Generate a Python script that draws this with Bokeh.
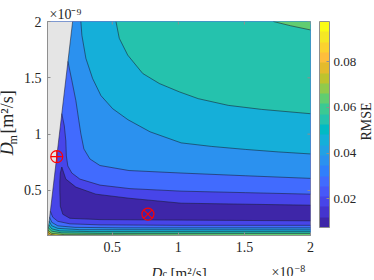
import numpy as np
from math import pi
from bokeh.plotting import figure
from bokeh.layouts import column, row
from bokeh.models import (Range1d, LinearAxis, FixedTicker, PrintfTickFormatter, Title,
                          ColorBar, LinearColorMapper, Label, ColumnDataSource)
from bokeh.embed import file_html
from bokeh.resources import INLINE

# ---------------- data (Dc in 1e-8 m^2/s, Dm in 1e-9 m^2/s) ----------------
dc_range = (0.01, 2.0)
dm_range = (0.1, 2.0)
dc_ticks = [0.5, 1, 1.5, 2]
dm_ticks = [0.5, 1, 1.5, 2]
rmse_ticks = [0.02, 0.04, 0.06, 0.08]
rmse_low, rmse_high = 0.0075, 0.0975
levels = [0.0075, 0.0165, 0.0255, 0.0345, 0.0435, 0.0525, 0.0615, 0.0705, 0.0795, 0.0885]

# level 1 contour: closed valley (U shape, both ends on the right edge)
valley_dc = [2.0, 1.507, 1.021, 0.627, 0.376, 0.2246, 0.1487, 0.1335, 0.1184, 0.107, 0.1032,
             0.1032, 0.107, 0.1259, 0.1791, 0.4067, 1.0212, 2.0]
valley_dm = [0.369, 0.378, 0.387, 0.431, 0.467, 0.5295, 0.6009, 0.6545, 0.708, 0.6545, 0.583,
             0.4938, 0.3598, 0.2884, 0.2527, 0.2411, 0.2366, 0.2304]

# upper contours (above the valley), levels 2..6
up2_dc = [0.1181, 0.1373, 0.1487, 0.1525, 0.1639, 0.1942, 0.2549, 0.4067, 0.6343, 1.0212, 1.5068, 2.0]
up2_dm = [1.1813, 1.0741, 0.9402, 0.8063, 0.717, 0.6545, 0.6009, 0.5473, 0.5161, 0.4938, 0.4804, 0.467]
up3_dc = [0.1646, 0.1942, 0.2246, 0.2473, 0.2625, 0.2853, 0.3308, 0.4067, 0.6267, 1.0212, 1.5068, 2.0]
up3_dm = [1.6455, 1.4759, 1.2973, 1.1188, 1.0027, 0.8688, 0.7795, 0.7214, 0.6768, 0.6545, 0.6304, 0.6071]
up4_dc = [0.2625, 0.2701, 0.3005, 0.3513, 0.4143, 0.503, 0.6191, 0.786, 1.0212, 1.2489, 1.5068, 1.7572, 2.0]
up4_dm = [2.0, 1.8777, 1.6723, 1.4938, 1.342, 1.2259, 1.1277, 1.0205, 0.9223, 0.8911, 0.8643, 0.842, 0.8241]
up5_dc = [0.5281, 0.5531, 0.6168, 0.7307, 0.8566, 1.0083, 1.1502, 1.3779, 1.6305, 2.0]
up5_dm = [2.0, 1.851, 1.7018, 1.5384, 1.449, 1.375, 1.315, 1.2554, 1.2196, 1.1813]
up6_dc = [1.7193, 1.8483, 2.0]
up6_dm = [2.0, 1.9625, 1.925]

# lower contours (below the valley), levels 2..9
lo2_dc = [0.0315, 0.0501, 0.088, 0.1791, 0.4067, 1.0212, 2.0]
lo2_dm = [0.3152, 0.2616, 0.2259, 0.2036, 0.1946, 0.1902, 0.1902]
lo3_dc = [0.0262, 0.0425, 0.088, 0.217, 0.5584, 2.0]
lo3_dm = [0.2616, 0.217, 0.1857, 0.1723, 0.1679, 0.1679]
lo4_dc = [0.0226, 0.0425, 0.088, 0.2549, 2.0]
lo4_dm = [0.2259, 0.1857, 0.1634, 0.1518, 0.15]
lo5_dc = [0.0195, 0.0425, 0.1032, 0.3308, 2.0]
lo5_dm = [0.1946, 0.1589, 0.141, 0.1348, 0.1339]
lo6_dc = [0.0168, 0.0425, 0.1184, 0.4067, 2.0]
lo6_dm = [0.168, 0.1384, 0.1232, 0.1187, 0.1187]
lo7_dc = [0.0146, 0.0425, 0.1411, 0.786, 1.5448]
lo7_dm = [0.1455, 0.1187, 0.1071, 0.1027, 0.1]
lo8_dc = [0.0128, 0.0349, 0.0728]
lo8_dm = [0.1277, 0.1098, 0.1]
lo9_dc = [0.0112, 0.0197, 0.0349]
lo9_dm = [0.1116, 0.1045, 0.1]

# marked estimates
mark_plus = (0.08, 0.8)
mark_x = (0.77, 0.29)

# ---------------- colormap (parula) ----------------
parula64 = [
 (0.2422,0.1504,0.6603),(0.2504,0.1650,0.7076),(0.2578,0.1818,0.7511),(0.2647,0.1978,0.7952),
 (0.2706,0.2147,0.8364),(0.2751,0.2342,0.8710),(0.2783,0.2559,0.8991),(0.2803,0.2782,0.9221),
 (0.2813,0.3006,0.9414),(0.2810,0.3228,0.9579),(0.2795,0.3447,0.9717),(0.2760,0.3667,0.9829),
 (0.2699,0.3892,0.9906),(0.2602,0.4123,0.9952),(0.2440,0.4358,0.9988),(0.2206,0.4603,0.9973),
 (0.1963,0.4847,0.9892),(0.1834,0.5074,0.9798),(0.1786,0.5289,0.9682),(0.1764,0.5499,0.9520),
 (0.1687,0.5703,0.9359),(0.1540,0.5902,0.9218),(0.1460,0.6091,0.9079),(0.1380,0.6276,0.8973),
 (0.1248,0.6459,0.8883),(0.1113,0.6635,0.8763),(0.0952,0.6798,0.8598),(0.0689,0.6948,0.8394),
 (0.0297,0.7082,0.8163),(0.0036,0.7203,0.7917),(0.0067,0.7312,0.7660),(0.0433,0.7411,0.7394),
 (0.0964,0.7500,0.7120),(0.1408,0.7584,0.6842),(0.1717,0.7670,0.6554),(0.1938,0.7758,0.6251),
 (0.2161,0.7843,0.5923),(0.2470,0.7918,0.5567),(0.2906,0.7973,0.5188),(0.3406,0.8008,0.4789),
 (0.3909,0.8029,0.4354),(0.4456,0.8024,0.3909),(0.5044,0.7993,0.3480),(0.5616,0.7942,0.3045),
 (0.6174,0.7876,0.2612),(0.6720,0.7793,0.2227),(0.7242,0.7698,0.1910),(0.7738,0.7598,0.1646),
 (0.8203,0.7498,0.1535),(0.8634,0.7406,0.1596),(0.9035,0.7330,0.1774),(0.9393,0.7288,0.2100),
 (0.9728,0.7298,0.2394),(0.9956,0.7434,0.2371),(0.9970,0.7659,0.2199),(0.9952,0.7893,0.2028),
 (0.9892,0.8136,0.1885),(0.9786,0.8386,0.1766),(0.9676,0.8639,0.1643),(0.9610,0.8890,0.1537),
 (0.9597,0.9135,0.1423),(0.9628,0.9373,0.1265),(0.9691,0.9606,0.1064),(0.9769,0.9839,0.0805)]
tab = np.array(parula64)
palette = []
for t in np.linspace(0, 63, 20):
    rgb = [np.interp(t, np.arange(64), tab[:, c]) for c in range(3)]
    palette.append("#%02x%02x%02x" % tuple(int(round(255 * v)) for v in rgb))
mapper = LinearColorMapper(palette=palette, low=rmse_low, high=rmse_high)

# ---------------- filled regions (painter's order) ----------------
x0, x1 = dc_range
y0, y1 = dm_range
poly_x, poly_y, poly_v = [], [], []
def add(xs, ys, v):
    poly_x.append(list(xs)); poly_y.append(list(ys)); poly_v.append(v + 0.001)

add([x0, x1, x1, x0], [y0, y0, y1, y1], levels[1])
uppers = [(up2_dc, up2_dm), (up3_dc, up3_dm), (up4_dc, up4_dm), (up5_dc, up5_dm), (up6_dc, up6_dm)]
for k, (xs, ys) in enumerate(uppers, start=2):
    px, py = list(xs) + [x1], list(ys) + [y1]
    if ys[0] < y1:
        px += [x0, x0]; py += [y1, ys[0]]
    add(px, py, levels[k])
lowers = [(lo2_dc, lo2_dm), (lo3_dc, lo3_dm), (lo4_dc, lo4_dm), (lo5_dc, lo5_dm),
          (lo6_dc, lo6_dm), (lo7_dc, lo7_dm), (lo8_dc, lo8_dm), (lo9_dc, lo9_dm)]
for k, (xs, ys) in enumerate(lowers, start=2):
    px, py = list(xs), list(ys)
    if xs[-1] >= x1:
        px += [x1]; py += [y0]
    px += [x0, x0]; py += [y0, ys[0]]
    add(px, py, levels[k])
add(valley_dc, valley_dm, levels[0])

# ---------------- main figure ----------------
FONT = "Liberation Serif"
TXT = "#262626"
AX = "#8f8f8f"
FW, FH = 263, 214
BOTTOM = 24
MAIN_H = 21 + FH + BOTTOM
EXTRA = 4            # observed extra height of the plot row
p = figure(frame_width=FW, frame_height=FH, output_backend="svg", toolbar_location=None,
           x_range=Range1d(*dc_range), y_range=Range1d(*dm_range),
           min_border_left=27, min_border_top=21, min_border_bottom=BOTTOM, min_border_right=45)
p.background_fill_color = "white"
p.border_fill_color = "white"
p.grid.visible = False
p.outline_line_color = AX
p.title.visible = False

src = ColumnDataSource(dict(xs=poly_x, ys=poly_y, v=poly_v))
p.patches("xs", "ys", source=src, fill_color={"field": "v", "transform": mapper},
          line_color=None)

# region where Dc < Dm: no data
p.patch([x0, dm_range[1] / 10, x0], [y0, y1, y1], fill_color="#e5e5e5", line_color=None)

line_x = [valley_dc] + [u[0] for u in uppers] + [l[0] for l in lowers] + [[x0, dm_range[1] / 10]]
line_y = [valley_dm] + [u[1] for u in uppers] + [l[1] for l in lowers] + [[y0, y1]]
p.multi_line(line_x, line_y, line_color="#1a1a2a", line_width=0.6, line_alpha=0.9)

# inward ticks on the top and right edges of the box (3 px long)
tx = 3 * (x1 - x0) / FW
ty = 3 * (y1 - y0) / FH
p.segment(x0=dc_ticks, y0=[y1] * len(dc_ticks), x1=dc_ticks, y1=[y1 - ty] * len(dc_ticks),
          line_color=AX, line_width=1)
p.segment(x0=[x1] * len(dm_ticks), y0=dm_ticks, x1=[x1 - tx] * len(dm_ticks), y1=dm_ticks,
          line_color=AX, line_width=1)

p.scatter([mark_plus[0]], [mark_plus[1]], marker="circle_cross", size=12, fill_color=None,
          line_color="red", line_width=1.2)
p.scatter([mark_x[0]], [mark_x[1]], marker="circle_x", size=12, fill_color=None,
          line_color="red", line_width=1.2)

for ax, ticks in ((p.xaxis[0], dc_ticks), (p.yaxis[0], dm_ticks)):
    ax.ticker = FixedTicker(ticks=ticks)
    ax.formatter = PrintfTickFormatter(format="%g")
    ax.axis_label = None
    ax.axis_label_standoff = 0
    ax.major_label_text_font = FONT
    ax.major_label_text_font_size = "14px"
    ax.major_label_text_color = TXT
    ax.major_tick_in = 3
    ax.major_tick_out = 0
    ax.minor_tick_line_color = None
    ax.axis_line_color = AX
    ax.major_tick_line_color = AX
    ax.major_label_standoff = 6

cb = ColorBar(color_mapper=mapper, ticker=FixedTicker(ticks=rmse_ticks),
              formatter=PrintfTickFormatter(format="%.2f"),
              major_label_text_font=FONT, major_label_text_font_size="13px",
              major_label_text_color=TXT,
              major_tick_line_color=AX, major_tick_in=3, major_tick_out=0,
              bar_line_color=AX, width=10, height=206, padding=0, margin=0,
              label_standoff=4, location=(9, 8),
              background_fill_color=None, border_line_color=None)
p.add_layout(cb, "right")

# exponent of the Dm axis, above the box (a 5 px empty spacer axis sits above it)
exp_title = Title(text="\u00d710\u207b\u2079", align="left", offset=2, standoff=0,
                  text_font=FONT, text_font_size="14px", text_font_style="normal",
                  text_color=TXT)
p.add_layout(exp_title, "above")
spacer = LinearAxis(ticker=FixedTicker(ticks=[]), major_tick_out=5, major_tick_in=0,
                    minor_tick_out=0, minor_tick_in=0, major_label_standoff=0,
                    axis_label=None, axis_label_standoff=0,
                    axis_line_color=None, major_tick_line_color=None, minor_tick_line_color=None)
p.add_layout(spacer, "above")

# ---------------- text strips (axis titles) ----------------
def strip(w, h):
    f = figure(width=w, height=h, x_range=Range1d(0, w), y_range=Range1d(0, h),
               x_axis_type=None, y_axis_type=None, min_border=0, output_backend="svg",
               toolbar_location=None)
    f.outline_line_color = None
    f.grid.visible = False
    f.title.visible = False
    f.background_fill_color = "white"
    f.border_fill_color = "white"
    return f

def lab(f, x, y, text, size, **kw):
    f.add_layout(Label(x=x, y=y, text=text, text_font=FONT, text_font_size=size,
                       text_color=TXT, **kw))

# label positions are measured from each strip's top edge
yfig = strip(20, MAIN_H)
lab(yfig, 16, MAIN_H - 162, "D", "18px", text_font_style="italic", angle=pi / 2)
lab(yfig, 19, MAIN_H - 149, "m", "12px", angle=pi / 2)
lab(yfig, 16, MAIN_H - 135.7, "[m\u00b2/s]", "18px", angle=pi / 2)

rfig = strip(18, MAIN_H)
lab(rfig, 7, MAIN_H - 121, "RMSE", "14px", angle=pi / 2, text_align="center",
    text_baseline="middle")

XH = 280 - MAIN_H - EXTRA
xfig = strip(373, XH)
lab(xfig, 151, XH - 13.4, "D", "15px", text_font_style="italic", text_baseline="alphabetic")
lab(xfig, 162, XH - 14.4, "c", "10.5px", text_baseline="alphabetic")
lab(xfig, 170, XH - 13.4, "[m\u00b2/s]", "15px", text_baseline="alphabetic")
lab(xfig, 271, XH - 12.6, "\u00d710", "14px", text_baseline="alphabetic")
lab(xfig, 294, XH - 9.0, "\u22128", "10px", text_baseline="alphabetic")

layout = column(row(yfig, p, rfig), xfig)
open("out.html", "w").write(file_html(layout, INLINE))
